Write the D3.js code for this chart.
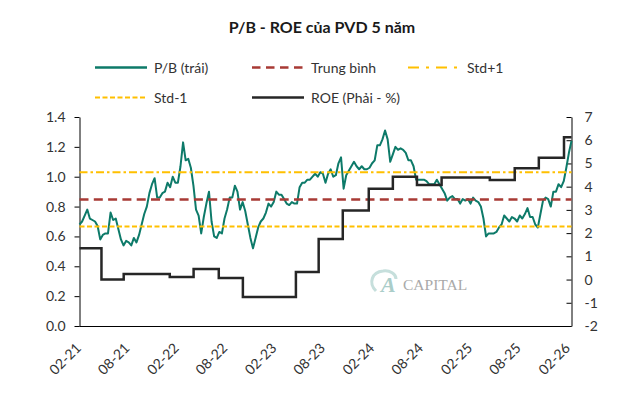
<!DOCTYPE html>
<html><head><meta charset="utf-8">
<script src="https://cdn.jsdelivr.net/npm/d3@7"></script>
<style>
body{margin:0;background:#fff;}
svg{display:block;font-family:Lato,"Open Sans",sans-serif;}
</style>
</head><body>
<svg id="chart" width="644" height="399"></svg>
<script>
// ---------- DATA ----------
const startDate = "2021-02-01";
const endDate = "2026-02-12";
const xTickLabels = ["02-21","08-21","02-22","08-22","02-23","08-23","02-24","08-24","02-25","08-25","02-26"];
const leftTicks = [0,0.2,0.4,0.6,0.8,1.0,1.2,1.4];
const rightTicks = [-2,-1,0,1,2,3,4,5,6,7];

// P/B (left axis), evenly spaced observations from startDate to endDate
const pbValues = [
0.68,0.70,0.74,0.78,0.72,0.71,0.70,0.67,0.58,0.61,
0.62,0.62,0.76,0.71,0.72,0.65,0.58,0.54,0.57,0.56,
0.54,0.59,0.56,0.61,0.68,0.75,0.80,0.89,0.95,0.99,
0.86,0.86,0.89,0.90,0.96,0.93,1.00,0.96,0.96,1.07,
1.23,1.11,1.12,1.06,0.94,0.78,0.74,0.62,0.73,0.82,
0.90,0.70,0.60,0.59,0.63,0.62,0.72,0.78,0.86,0.86,
0.94,0.90,0.78,0.83,0.77,0.68,0.59,0.52,0.59,0.66,
0.70,0.72,0.76,0.82,0.80,0.83,0.90,0.88,0.88,0.85,
0.82,0.81,0.83,0.82,0.82,0.93,0.96,0.96,0.98,0.98,
1.00,1.02,1.00,1.03,1.02,0.96,1.02,1.05,1.00,1.01,
1.09,1.13,0.92,1.01,1.04,1.07,1.10,1.07,1.05,1.07,
1.05,1.05,1.06,1.09,1.11,1.21,1.21,1.25,1.31,1.25,
1.10,1.15,1.20,1.18,1.19,1.18,1.16,1.11,1.11,1.07,
0.98,0.98,0.98,0.98,0.97,0.95,0.95,0.95,0.98,0.95,
0.92,0.89,0.84,0.86,0.87,0.85,0.85,0.82,0.85,0.84,
0.85,0.82,0.86,0.84,0.83,0.80,0.72,0.60,0.62,0.62,
0.62,0.63,0.66,0.68,0.74,0.72,0.70,0.73,0.72,0.70,
0.74,0.72,0.75,0.79,0.73,0.73,0.68,0.66,0.75,0.84,
0.86,0.85,0.80,0.90,0.90,0.95,0.93,0.97,1.06,1.16,1.24
];

// ROE (right axis, %), step values from each date
const roeDates = ["2021-02-01","2021-04-24","2021-07-16","2022-01-04","2022-04-03","2022-07-06","2022-10-04","2023-04-20","2023-07-14","2023-10-12","2024-01-17","2024-04-16","2024-07-15","2024-10-15","2025-04-13","2025-07-15","2025-10-13","2026-01-15"];
const roeValues = [1.35,0.0,0.24,0.11,0.45,0.07,-0.75,0.33,1.75,2.97,3.91,4.43,4.07,4.40,4.29,4.79,5.25,6.13];

const meanPB = 0.848;
const stdPlus1 = 1.030;
const stdMinus1 = 0.666;

const titleText = "P/B - ROE của PVD 5 năm";

// ---------- CHART ----------
const parse = d3.timeParse("%Y-%m-%d");
const t0 = parse(startDate), t1 = parse(endDate);
const pbDates = pbValues.map((v,i)=> new Date(+t0 + (t1 - t0) * i / (pbValues.length - 1)));
const pbData = pbValues.map((v,i)=>({d:pbDates[i], v}));
const roeData = roeValues.map((v,i)=>({d:parse(roeDates[i]), v}));
roeData.push({d:t1, v:roeValues[roeValues.length-1]});
const xTickDates = xTickLabels.map(l => parse("20" + l.slice(3) + "-" + l.slice(0,2) + "-01"));

const svg = d3.select("#chart");
const C = {pb:"#0D7A69", mean:"#A83A35", std:"#FFC000", roe:"#262626", text:"#333"};

const x = d3.scaleTime().domain([t0, t1]).range([79.5, 571.5]);
const yL = d3.scaleLinear().domain([0, 1.4]).range([326, 117]);
const yR = d3.scaleLinear().domain([-2, 7]).range([326, 117]);

// title
svg.append("text").attr("x", 322).attr("y", 33).attr("text-anchor","middle")
  .attr("font-size", 16).attr("font-weight", 700).attr("fill", "#1a1a1a").text(titleText);

// legend
const legend = [
  {label:"P/B (trái)", color:C.pb, dash:null, w:2.5, lx:95, ly:67.5},
  {label:"Trung bình", color:C.mean, dash:"8.5,5.5", w:2.5, lx:252, ly:67.5},
  {label:"Std+1", color:C.std, dash:"11,7,3,7", w:2, lx:408, ly:67.5},
  {label:"Std-1", color:C.std, dash:"5,2.5", w:2, lx:95, ly:97.5},
  {label:"ROE (Phải - %)", color:C.roe, dash:null, w:2.5, lx:252, ly:97.5}
];
const lg = svg.append("g");
legend.forEach(it=>{
  lg.append("line").attr("x1", it.lx).attr("x2", it.lx+52).attr("y1", it.ly).attr("y2", it.ly)
    .attr("stroke", it.color).attr("stroke-width", it.w).attr("stroke-dasharray", it.dash);
  lg.append("text").attr("x", it.lx+59).attr("y", it.ly+5.5).attr("font-size", 14)
    .attr("fill", C.text).text(it.label);
});

// watermark
const wm = svg.append("g");
wm.append("path").attr("d","M376,291 C368,283 372,272 383,271 C390,270 396,274 396,279")
  .attr("fill","none").attr("stroke","#c6dfdc").attr("stroke-width",3);
wm.append("text").attr("x",381).attr("y",292).attr("font-family","'Liberation Serif',serif")
  .attr("font-style","italic").attr("font-weight",700).attr("font-size",22).attr("fill","#aacdc9").text("A");
wm.append("text").attr("x",403).attr("y",290).attr("font-family","'Liberation Serif',serif")
  .attr("font-size",15.5).attr("fill","#a9a9a9").text("CAPITAL");

// axes
const axL = svg.append("g").attr("transform","translate(79.5,0)")
  .call(d3.axisLeft(yL).tickValues(leftTicks).tickFormat(d3.format(".1f")).tickSizeInner(5).tickSizeOuter(0).tickPadding(9));
const axR = svg.append("g").attr("transform","translate(571.5,0)")
  .call(d3.axisRight(yR).tickValues(rightTicks).tickFormat(d=>String(d)).tickSizeInner(-5).tickSizeOuter(0).tickPadding(13));
[axL, axR].forEach(a=>{
  a.selectAll("path,line").attr("stroke","#000").attr("stroke-width",1);
  a.selectAll("text").attr("font-size",14).attr("fill",C.text).attr("font-family","Lato,sans-serif");
});
svg.append("line").attr("x1", x.range()[0]).attr("x2", x.range()[1]).attr("y1", 326.5).attr("y2", 326.5)
  .attr("stroke","#000").attr("stroke-width",1);
svg.append("g").selectAll("text").data(xTickDates).join("text")
  .attr("transform", (d)=>`translate(${x(d)+2.5},349) rotate(-45)`)
  .attr("text-anchor","end").attr("font-size",14).attr("fill",C.text)
  .text((d,i)=>xTickLabels[i]);

// P/B line
svg.append("path").datum(pbData)
  .attr("d", d3.line().x(d=>x(d.d)).y(d=>yL(d.v)))
  .attr("fill","none").attr("stroke",C.pb).attr("stroke-width",2).attr("stroke-linejoin","round");

// reference lines
const refs = [
  {v:meanPB, color:C.mean, dash:"9,5.3", w:2.5},
  {v:stdPlus1, color:C.std, dash:"8,3,2.5,3", w:2},
  {v:stdMinus1, color:C.std, dash:"5,2.5", w:2}
];
refs.forEach(r=>{
  svg.append("line").attr("x1", x(t0)).attr("x2", x(t1)).attr("y1", yL(r.v)).attr("y2", yL(r.v))
    .attr("stroke", r.color).attr("stroke-width", r.w).attr("stroke-dasharray", r.dash);
});

// ROE step line
svg.append("path").datum(roeData)
  .attr("d", d3.line().curve(d3.curveStepAfter).x(d=>x(d.d)).y(d=>yR(d.v)))
  .attr("fill","none").attr("stroke",C.roe).attr("stroke-width",2.5);
</script>
</body></html>
